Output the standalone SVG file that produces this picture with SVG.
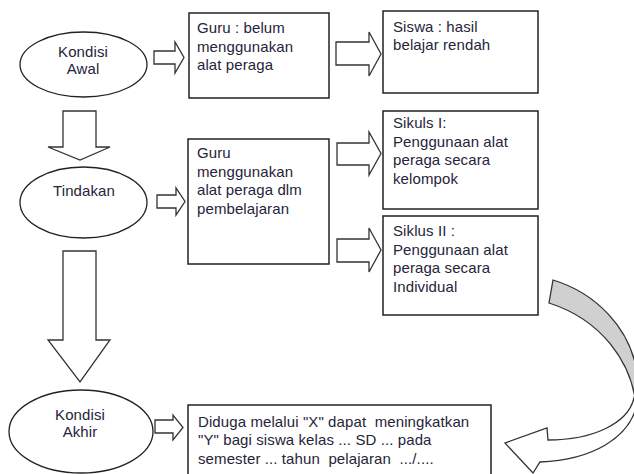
<svg xmlns="http://www.w3.org/2000/svg" width="634" height="474" viewBox="0 0 634 474">
  <style>
    .box { fill: #ffffff; stroke: #222222; stroke-width: 1.5; }
    .oval { fill: #ffffff; stroke: #222222; stroke-width: 1.3; }
    .blk { fill: #ffffff; stroke: #333333; stroke-width: 1.3; stroke-linejoin: miter; }
    .t { font-family: "Liberation Sans", Arial, sans-serif; font-size: 15px; letter-spacing: 0.1px; fill: #26243a; }
    .c { text-anchor: middle; }
  </style>
  <rect width="634" height="474" fill="#ffffff"/>

  <!-- block-arrow connectors -->
  <g id="connectors">
    <path class="blk" d="M154,51 L175,51 L175,42 L184,57.5 L175,73 L175,64 L154,64 Z"/>
    <path class="blk" d="M336,42 L369,42 L369,32 L381,54 L369,76 L369,65 L336,65 Z"/>
    <path class="blk" d="M157,195 L176,195 L176,188 L185,201.5 L176,215 L176,208 L157,208 Z"/>
    <path class="blk" d="M337,143 L369,143 L369,132 L381,153.5 L369,175 L369,165 L337,165 Z"/>
    <path class="blk" d="M337,239 L369,239 L369,228 L381,250 L369,272 L369,262 L337,262 Z"/>
    <path class="blk" d="M155,420 L173,420 L173,415 L183,427.5 L173,440 L173,433 L155,433 Z"/>
    <path class="blk" d="M63,111 L96,111 L96,147 L110,147 L80,160 L48,147 L63,147 Z"/>
    <path class="blk" d="M63,251 L96,251 L96,340 L110,340 L80,382 L48,340 L63,340 Z"/>
    <!-- curved return arrow -->
    <path class="blk" d="M634,398 C628,424 592,440 548,440 L547,428 L505,443 L533,473 L540,462 C592,460 630,438 637,404 Z"/>
    <path d="M553,280 C596,293 630,328 637,372 L636,404 C631,362 602,320 549,303 Z" fill="#d0d0d0" stroke="#333333" stroke-width="1.3"/>
  </g>

  <g id="kondisi-awal">
    <ellipse class="oval" cx="83.5" cy="64.5" rx="63.5" ry="32.5"/>
    <text class="t c" x="83" y="57">Kondisi</text>
    <text class="t c" x="83" y="74">Awal</text>
  </g>

  <g id="guru-belum">
    <rect class="box" x="189" y="13" width="140" height="85"/>
    <text class="t" x="197" y="33">Guru : belum</text>
    <text class="t" x="197" y="51.5">menggunakan</text>
    <text class="t" x="197" y="70">alat peraga</text>
  </g>

  <g id="siswa-rendah">
    <rect class="box" x="383" y="11" width="155" height="82"/>
    <text class="t" x="393" y="31.5">Siswa : hasil</text>
    <text class="t" x="393" y="50">belajar rendah</text>
  </g>

  <g id="tindakan">
    <ellipse class="oval" cx="83.5" cy="202.5" rx="63.5" ry="35.5"/>
    <text class="t c" x="84" y="196">Tindakan</text>
  </g>

  <g id="guru-menggunakan">
    <rect class="box" x="188" y="139" width="141" height="125"/>
    <text class="t" x="197" y="158">Guru</text>
    <text class="t" x="197" y="176.5">menggunakan</text>
    <text class="t" x="197" y="195">alat peraga dlm</text>
    <text class="t" x="197" y="213.5">pembelajaran</text>
  </g>

  <g id="siklus-1">
    <rect class="box" x="383" y="111" width="155" height="98"/>
    <text class="t" x="393" y="128">Sikuls I:</text>
    <text class="t" x="393" y="146.5">Penggunaan alat</text>
    <text class="t" x="393" y="165">peraga secara</text>
    <text class="t" x="393" y="183.5">kelompok</text>
  </g>

  <g id="siklus-2">
    <rect class="box" x="383" y="216" width="155" height="99"/>
    <text class="t" x="393" y="236">Siklus II :</text>
    <text class="t" x="393" y="254.5">Penggunaan alat</text>
    <text class="t" x="393" y="273">peraga secara</text>
    <text class="t" x="393" y="291.5">Individual</text>
  </g>

  <g id="kondisi-akhir">
    <ellipse class="oval" cx="81" cy="431.5" rx="72" ry="41.5"/>
    <text class="t c" x="80" y="420">Kondisi</text>
    <text class="t c" x="80" y="437">Akhir</text>
  </g>

  <g id="hipotesis">
    <rect class="box" x="188" y="405" width="303" height="80"/>
    <text class="t" x="198" y="426.5" xml:space="preserve">Diduga melalui "X" dapat  meningkatkan</text>
    <text class="t" x="198" y="445" xml:space="preserve">"Y" bagi siswa kelas ... SD ... pada</text>
    <text class="t" x="198" y="463.5" xml:space="preserve">semester ... tahun  pelajaran  .../....</text>
  </g>
</svg>
